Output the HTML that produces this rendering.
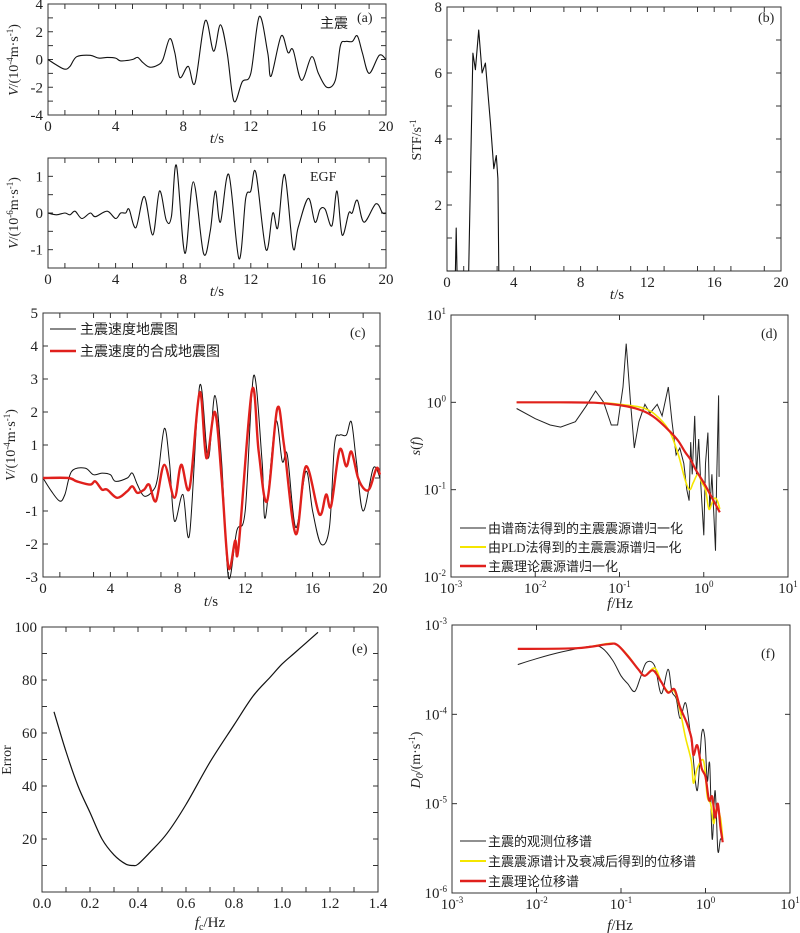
<!DOCTYPE html>
<html><head><meta charset="utf-8"><style>
html,body{margin:0;padding:0;background:#fff}
svg{display:block}
text{font-family:"Liberation Serif","Noto Serif CJK SC","Noto Sans CJK SC",serif;fill:#222}
.cjk{font-family:"Liberation Serif","Noto Sans CJK SC",sans-serif}
</style></head><body>
<svg id="fig" width="800" height="933" viewBox="0 0 800 933"></svg>
<script>
// ---------- data ----------
const mainT=[0,0.5,1,1.3,1.7,2.5,3,3.5,4,4.3,5,5.3,5.6,6,6.5,6.8,7.2,7.5,7.8,8.3,8.7,9.3,9.8,10.2,10.6,11,11.5,12,12.5,13,13.2,13.8,14.2,14.5,15,15.6,16,16.5,17,17.3,17.6,18,18.3,18.6,19,19.6,20];
const mainV=[0,-0.4,-0.7,-0.5,0.2,0.3,0.1,0.15,0.1,-0.1,0,0.15,-0.2,-0.55,-0.4,0,1.5,0.5,-1.3,-0.5,-1.7,2.8,0.6,2.5,0.5,-3,-1.6,-1,3.1,0.5,-1.2,1.7,0.5,0.7,-1.5,0.2,-1,-2,-1.5,1,1.3,1.3,1.7,0.5,-1,0.3,0];
const egfT=[0,0.5,1,1.3,1.6,2,2.5,2.8,3.5,4,4.3,4.6,4.8,5.2,5.7,6.2,6.6,7,7.3,7.6,8.1,8.6,9.2,9.6,9.9,10.2,10.7,11.3,11.7,12,12.3,12.9,13.3,13.6,14,14.5,14.8,15.4,15.8,16.1,16.4,16.8,17.1,17.4,17.8,18,18.3,18.7,19.4,19.8,20];
const egfV=[0,-0.05,0,-0.05,0.05,-0.15,0,-0.1,0.05,-0.15,0,0,0.1,-0.4,0.45,-0.6,0.6,-0.2,-0.1,1.3,-1.1,0.85,-1.1,-0.5,0.6,-0.25,1.05,-1.25,0.4,0.6,1.1,-1,0,-0.4,1.05,-0.95,-0.4,0.4,-0.25,0.1,0.1,-0.35,0.6,-0.6,0,0,0.35,-0.25,0.25,0,0];
const synT=[0,1.5,2,2.8,3.1,3.5,3.8,4.4,5,5.3,5.6,6,6.3,6.7,7.2,7.8,8.2,8.7,9.3,9.7,10.2,10.6,11,11.4,11.6,12.4,12.8,13.3,13.9,14.3,15,15.6,16.4,16.8,17.1,17.6,18,18.3,18.7,19.1,19.4,19.8,20];
const synV=[0,0,-0.1,-0.2,-0.1,-0.35,-0.35,-0.6,-0.4,-0.25,-0.45,-0.35,-0.2,-0.7,0.4,-0.6,0.4,-0.3,2.6,0.6,2.0,0,-2.7,-1.9,-2.1,2.65,0.8,-0.7,2.1,1.0,-1.7,0.35,-1.1,-0.5,-0.85,0.85,0.35,0.8,0,-0.35,-0.3,0.3,0.1];
const stfT=[0,0.5,0.55,0.6,1.3,1.45,1.55,1.7,1.9,2.1,2.3,2.6,2.8,2.95,3.05,3.1];
const stfV=[0,0,1.3,0,0,4,6.6,6.1,7.3,6.0,6.3,4.5,3.1,3.5,2.8,0];
const sObsF=[0.006,0.01,0.015,0.02,0.03,0.04,0.052,0.065,0.08,0.095,0.11,0.12,0.135,0.15,0.17,0.2,0.23,0.28,0.32,0.38,0.42,0.47,0.52,0.58,0.63,0.67,0.7,0.73,0.78,0.82,0.87,0.92,1.0,1.05,1.12,1.18,1.25,1.32,1.38,1.42,1.5,1.52];
const sObsV=[0.85,0.65,0.55,0.52,0.6,0.9,1.35,1.0,0.55,0.55,1.5,4.7,1.0,0.3,0.6,0.95,0.75,0.95,0.7,1.5,0.6,0.25,0.3,0.2,0.1,0.075,0.35,0.15,0.7,0.15,0.38,0.12,0.03,0.2,0.45,0.06,0.15,0.05,0.02,0.12,1.2,0.14];
const sPldF=[0.006,0.05,0.1,0.2,0.3,0.4,0.5,0.6,0.68,0.75,0.85,0.95,1.05,1.15,1.25,1.35,1.45,1.55];
const sPldV=[1,0.99,0.95,0.85,0.65,0.45,0.25,0.13,0.1,0.12,0.15,0.12,0.1,0.06,0.07,0.08,0.075,0.06];
const sThF=[0.006,0.02,0.05,0.1,0.15,0.2,0.25,0.3,0.4,0.5,0.6,0.7,0.8,1.0,1.2,1.4,1.55];
const sThV=[1,1,0.99,0.93,0.86,0.78,0.69,0.6,0.46,0.36,0.27,0.22,0.17,0.12,0.087,0.066,0.055];
const errF=[0.05,0.1,0.15,0.2,0.25,0.3,0.35,0.38,0.4,0.45,0.52,0.6,0.7,0.8,0.88,0.95,1.0,1.05,1.1,1.15];
const errV=[68,53,40,30,20,14,10.5,10,10.5,15,22,33,49,63,74,81,86,90,94,98];
const dObsF=[0.006,0.01,0.02,0.045,0.06,0.08,0.1,0.12,0.145,0.17,0.2,0.25,0.3,0.36,0.4,0.45,0.5,0.58,0.65,0.7,0.8,0.9,0.98,1.05,1.12,1.2,1.3,1.4,1.5,1.6];
const dObsV=[3.6e-4,4.2e-4,5e-4,5.8e-4,5.5e-4,4e-4,2.7e-4,2.2e-4,1.8e-4,2.6e-4,3.8e-4,3.5e-4,1.7e-4,3.2e-4,1.8e-4,1.5e-4,0.9e-4,1.35e-4,0.7e-4,0.4e-4,1.4e-5,6e-5,5.5e-5,1.8e-5,2.8e-5,4e-6,1.4e-5,3e-6,4e-6,3.8e-6];
const dSynF=[0.006,0.03,0.07,0.09,0.12,0.16,0.19,0.25,0.3,0.36,0.43,0.5,0.58,0.68,0.72,0.8,0.95,1.05,1.15,1.25,1.35,1.5,1.6];
const dSynV=[5.4e-4,5.5e-4,6.2e-4,6e-4,4.6e-4,3.2e-4,2.7e-4,3.3e-4,2.3e-4,1.8e-4,1.8e-4,1.1e-4,0.55e-4,0.3e-4,1.7e-5,2.5e-5,3e-5,1.2e-5,1e-5,6e-6,9e-6,7e-6,4e-6];
const dThF=[0.006,0.03,0.07,0.09,0.12,0.16,0.19,0.24,0.3,0.36,0.43,0.5,0.6,0.68,0.72,0.8,0.9,1.0,1.1,1.2,1.3,1.4,1.5,1.6];
const dThV=[5.4e-4,5.5e-4,6.1e-4,6e-4,4.5e-4,3.2e-4,2.7e-4,3.1e-4,2.3e-4,1.75e-4,1.9e-4,1.2e-4,0.8e-4,0.55e-4,0.35e-4,0.45e-4,0.25e-4,0.2e-4,1.1e-5,1.2e-5,0.7e-5,1e-5,0.55e-5,3.7e-6];
const linTicks20=[0,4,8,12,16,20];
const logTicksX=[-3,-2,-1,0,1];

// ---------- drawing ----------
const NS='http://www.w3.org/2000/svg';
const svg=document.getElementById('fig');
function el(tag,attrs,name,parent){
  const e=document.createElementNS(NS,tag);
  for(const k in attrs)e.setAttribute(k,attrs[k]);
  
  
  (parent||svg).appendChild(e);return e;
}
function axes(L,T,R,B,x0,x1,y0,y1,logx,logy){
  const fx=v=>{const a=logx?Math.log10(v):v;return L+(a-x0)/(x1-x0)*(R-L);};
  const fy=v=>{const a=logy?Math.log10(v):v;return B-(a-y0)/(y1-y0)*(B-T);};
  return {fx,fy,L,T,R,B};
}
function frame(ax,name){
  el('rect',{x:ax.L,y:ax.T,width:ax.R-ax.L,height:ax.B-ax.T,fill:'none',stroke:'#333','stroke-width':1},name);
}
function tickX(ax,vals,logv,label,name){
  const g=el('g',{},name);
  vals.forEach(v=>{
    const px=logv?ax.L+(v-logTicksX[0])/(logTicksX[4]-logTicksX[0])*(ax.R-ax.L):ax.fx(v);
    el('line',{x1:px,x2:px,y1:ax.B,y2:ax.B-5,stroke:'#333'},'x-tick',g);
    el('line',{x1:px,x2:px,y1:ax.T,y2:ax.T+5,stroke:'#333'},'x-tick-top',g);
    if(label){
      const t=el('text',{x:px,y:ax.B+16,'font-size':15,'text-anchor':'middle'},'x-tick-label',g);
      if(logv){t.textContent='10';const s=el('tspan',{'font-size':9,dy:-6},'tick-exponent',t);s.textContent=String(v);}
      else t.textContent=label(v);
    }
  });
}
function tickY(ax,vals,label,name,logy,yr){
  const g=el('g',{},name);
  vals.forEach(v=>{
    const py=logy?ax.B-(v-yr[0])/(yr[1]-yr[0])*(ax.B-ax.T):ax.fy(v);
    el('line',{x1:ax.L,x2:ax.L+5,y1:py,y2:py,stroke:'#333'},'y-tick',g);
    el('line',{x1:ax.R,x2:ax.R-5,y1:py,y2:py,stroke:'#333'},'y-tick-right',g);
    if(label){
      const t=el('text',{x:ax.L-5,y:py+5,'font-size':15,'text-anchor':'end'},'y-tick-label',g);
      if(logy){t.textContent='10';const s=el('tspan',{'font-size':9,dy:-6},'tick-exponent',t);s.textContent=String(v);}
      else t.textContent=label(v);
    }
  });
}
function smoothPath(ax,xs,ys){
  const p=xs.map((x,i)=>[ax.fx(x),ax.fy(ys[i])]);
  let d='M'+p[0][0].toFixed(1)+','+p[0][1].toFixed(1);
  for(let i=0;i<p.length-1;i++){
    const a=p[i-1]||p[i],b=p[i],c=p[i+1],e=p[i+2]||c;
    const c1=[b[0]+(c[0]-a[0])/6,b[1]+(c[1]-a[1])/6],c2=[c[0]-(e[0]-b[0])/6,c[1]-(e[1]-b[1])/6];
    d+='C'+c1[0].toFixed(1)+','+c1[1].toFixed(1)+' '+c2[0].toFixed(1)+','+c2[1].toFixed(1)+' '+c[0].toFixed(1)+','+c[1].toFixed(1);
  }
  return d;
}
function poly(ax,xs,ys){return xs.map((x,i)=>(i?'L':'M')+ax.fx(x).toFixed(1)+','+ax.fy(ys[i]).toFixed(1)).join('');}
function txt(x,y,s,size,name,extra){const t=el('text',Object.assign({x:x,y:y,'font-size':size},extra||{}),name);t.textContent=s;return t;}
function yTitle(x,y,html,name){
  const t=el('text',{x:0,y:0,'font-size':14,'text-anchor':'middle',transform:`translate(${x},${y}) rotate(-90)`},name);
  t.innerHTML=html;return t;
}
function xTitle(x,y,html,name){const t=el('text',{x:x,y:y,'font-size':15,'text-anchor':'middle'},name);t.innerHTML=html;return t;}
const odd=[1,3,5,7,9,11,13,15,17,19];

// Panel a top
let A=axes(48,4,386,115,0,20,-4,4);
frame(A,'panel-a-main-frame');
tickX(A,odd,false,null,'panel-a-main-minor-x');
tickX(A,linTicks20,false,v=>v,'panel-a-main-x-axis');
tickY(A,[-4,-2,0,2,4],v=>v,'panel-a-main-y-axis');
tickY(A,[-3,-1,1,3],null,'panel-a-main-minor-y');
el('path',{d:smoothPath(A,mainT,mainV),fill:'none',stroke:'#111','stroke-width':1.1},'main-shock-velocity-line');
txt(320,28,'主震',14,'main-shock-label',{class:'cjk',fill:'#555'});
txt(357,22,'(a)',14,'panel-a-label');
xTitle(217,143,'<tspan font-style="italic">t</tspan>/s','panel-a-main-x-title');
yTitle(18,60,'<tspan font-style="italic">V</tspan>/(10<tspan font-size="9" dy="-5">-4</tspan><tspan dy="5">m·s</tspan><tspan font-size="9" dy="-5">-1</tspan><tspan dy="5">)</tspan>','panel-a-main-y-title');

// Panel a bottom (EGF)
let E=axes(48,158,386,268,0,20,-1.5,1.5);
frame(E,'panel-a-egf-frame');
tickX(E,odd,false,null,'panel-a-egf-minor-x');
tickX(E,linTicks20,false,v=>v,'panel-a-egf-x-axis');
tickY(E,[-1,0,1],v=>v,'panel-a-egf-y-axis');
tickY(E,[-0.5,0.5],null,'panel-a-egf-minor-y');
el('path',{d:smoothPath(E,egfT,egfV),fill:'none',stroke:'#111','stroke-width':1.1},'egf-velocity-line');
txt(310,181,'EGF',14,'egf-label');
xTitle(217,296,'<tspan font-style="italic">t</tspan>/s','panel-a-egf-x-title');
yTitle(18,213,'<tspan font-style="italic">V</tspan>/(10<tspan font-size="9" dy="-5">-6</tspan><tspan dy="5">m·s</tspan><tspan font-size="9" dy="-5">-1</tspan><tspan dy="5">)</tspan>','panel-a-egf-y-title');

// Panel b
let B=axes(447,7,781,271,0,20,0,8);
frame(B,'panel-b-frame');
tickX(B,odd,false,null,'panel-b-minor-x');
tickX(B,linTicks20,false,v=>v,'panel-b-x-axis');
tickY(B,[2,4,6,8],v=>v,'panel-b-y-axis');
tickY(B,[1,3,5,7],null,'panel-b-minor-y');
el('path',{d:poly(B,stfT,stfV),fill:'none',stroke:'#111','stroke-width':1.1,'stroke-linejoin':'round'},'stf-line');
txt(758,22,'(b)',14,'panel-b-label');
xTitle(617,299,'<tspan font-style="italic">t</tspan>/s','panel-b-x-title');
yTitle(421,140,'STF/s<tspan font-size="9" dy="-5">-1</tspan>','panel-b-y-title');

// Panel c
let C=axes(43,313,380,577,0,20,-3,5);
frame(C,'panel-c-frame');
tickX(C,odd,false,null,'panel-c-minor-x');
tickX(C,linTicks20,false,v=>v,'panel-c-x-axis');
tickY(C,[-3,-2,-1,0,1,2,3,4,5],v=>v,'panel-c-y-axis');
el('path',{d:smoothPath(C,mainT,mainV),fill:'none',stroke:'#111','stroke-width':1},'observed-velocity-line');
el('path',{d:smoothPath(C,synT,synV),fill:'none',stroke:'#e0201c','stroke-width':2.4},'synthetic-velocity-line');
el('line',{x1:50,x2:76,y1:329,y2:329,stroke:'#111','stroke-width':1},'legend-observed-swatch');
txt(80,334,'主震速度地震图',14,'legend-observed-label',{class:'cjk'});
el('line',{x1:50,x2:76,y1:351,y2:351,stroke:'#e0201c','stroke-width':2.4},'legend-synthetic-swatch');
txt(80,356,'主震速度的合成地震图',14,'legend-synthetic-label',{class:'cjk'});
txt(350,337,'(c)',14,'panel-c-label');
xTitle(211,606,'<tspan font-style="italic">t</tspan>/s','panel-c-x-title');
yTitle(15,445,'<tspan font-style="italic">V</tspan>/(10<tspan font-size="9" dy="-5">-4</tspan><tspan dy="5">m·s</tspan><tspan font-size="9" dy="-5">-1</tspan><tspan dy="5">)</tspan>','panel-c-y-title');

// Panel d
let D=axes(451,315,788,577,-3,1,-2,1,true,true);
frame(D,'panel-d-frame');
tickX(D,logTicksX,true,true,'panel-d-x-axis');
tickY(D,[-2,-1,0,1],true,'panel-d-y-axis',true,[-2,1]);
el('path',{d:poly(D,sObsF,sObsV),fill:'none',stroke:'#222','stroke-width':1},'spectral-ratio-line');
el('path',{d:smoothPath(D,sPldF,sPldV),fill:'none',stroke:'#f5e600','stroke-width':1.6},'pld-spectrum-line');
el('path',{d:smoothPath(D,sThF,sThV),fill:'none',stroke:'#e0201c','stroke-width':2.2},'theoretical-spectrum-line');
el('line',{x1:460,x2:486,y1:528,y2:528,stroke:'#222'},'legend-d-ratio-swatch');
txt(488,533,'由谱商法得到的主震震源谱归一化',13,'legend-d-ratio-label',{class:'cjk'});
el('line',{x1:460,x2:486,y1:547,y2:547,stroke:'#f5e600','stroke-width':2},'legend-d-pld-swatch');
txt(488,552,'由PLD法得到的主震震源谱归一化',13,'legend-d-pld-label',{class:'cjk'});
el('line',{x1:460,x2:486,y1:566,y2:566,stroke:'#e0201c','stroke-width':2.4},'legend-d-theory-swatch');
txt(488,571,'主震理论震源谱归一化',13,'legend-d-theory-label',{class:'cjk'});
txt(761,338,'(d)',14,'panel-d-label');
xTitle(620,608,'<tspan font-style="italic">f</tspan>/Hz','panel-d-x-title');
yTitle(420,446,'<tspan font-style="italic">s</tspan>(<tspan font-style="italic">f</tspan>)','panel-d-y-title');

// Panel e
let Ee=axes(42,627,378,892,0,1.4,0,100);
frame(Ee,'panel-e-frame');
tickX(Ee,[0,0.2,0.4,0.6,0.8,1.0,1.2,1.4],false,v=>v.toFixed(1),'panel-e-x-axis');
tickX(Ee,[0.1,0.3,0.5,0.7,0.9,1.1,1.3],false,null,'panel-e-minor-x');
tickY(Ee,[20,40,60,80,100],v=>v,'panel-e-y-axis');
tickY(Ee,[10,30,50,70,90],null,'panel-e-minor-y');
el('path',{d:smoothPath(Ee,errF,errV),fill:'none',stroke:'#111','stroke-width':1.2},'error-curve');
txt(352,653,'(e)',14,'panel-e-label');
xTitle(210,927,'<tspan font-style="italic">f</tspan><tspan font-size="10" dy="3">c</tspan><tspan dy="-3">/Hz</tspan>','panel-e-x-title');
yTitle(11,760,'Error','panel-e-y-title');

// Panel f
let F=axes(452,625,790,893,-3,1,-6,-3,true,true);
frame(F,'panel-f-frame');
tickX(F,logTicksX,true,true,'panel-f-x-axis');
tickY(F,[-6,-5,-4,-3],true,'panel-f-y-axis',true,[-6,-3]);
el('path',{d:smoothPath(F,dObsF,dObsV),fill:'none',stroke:'#222','stroke-width':1},'observed-displacement-line');
el('path',{d:smoothPath(F,dSynF,dSynV),fill:'none',stroke:'#f5e600','stroke-width':1.6},'attenuated-displacement-line');
el('path',{d:smoothPath(F,dThF,dThV),fill:'none',stroke:'#e0201c','stroke-width':2.2},'theoretical-displacement-line');
el('line',{x1:460,x2:486,y1:841,y2:841,stroke:'#222'},'legend-f-observed-swatch');
txt(488,846,'主震的观测位移谱',13,'legend-f-observed-label',{class:'cjk'});
el('line',{x1:460,x2:486,y1:861,y2:861,stroke:'#f5e600','stroke-width':2},'legend-f-attenuated-swatch');
txt(488,866,'主震震源谱计及衰减后得到的位移谱',13,'legend-f-attenuated-label',{class:'cjk'});
el('line',{x1:460,x2:486,y1:881,y2:881,stroke:'#e0201c','stroke-width':2.4},'legend-f-theory-swatch');
txt(488,886,'主震理论位移谱',13,'legend-f-theory-label',{class:'cjk'});
txt(761,658,'(f)',14,'panel-f-label');
xTitle(620,930,'<tspan font-style="italic">f</tspan>/Hz','panel-f-x-title');
yTitle(420,760,'<tspan font-style="italic">D</tspan><tspan font-size="10" dy="3" font-style="italic">0</tspan><tspan dy="-3">/(m·s</tspan><tspan font-size="9" dy="-5">-1</tspan><tspan dy="5">)</tspan>','panel-f-y-title');
</script>
</body></html>
